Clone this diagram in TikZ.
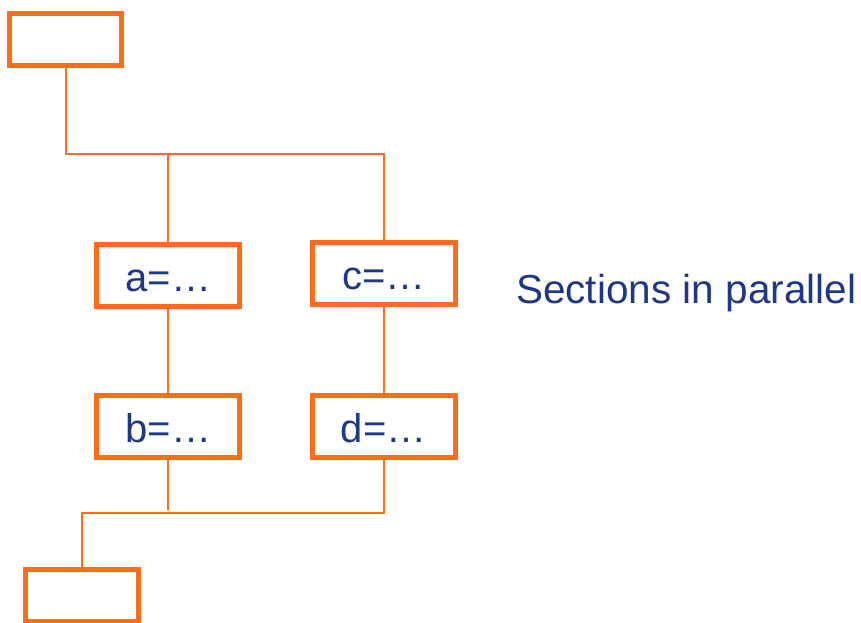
\documentclass[tikz,border=0pt]{standalone}
\usepackage{fontspec}
\setmainfont{Liberation Sans}
\usepackage{tikz}

\definecolor{secorange}{RGB}{255,108,30}
\definecolor{secblue}{RGB}{30,55,135}

\begin{document}
\begin{tikzpicture}[x=1pt, y=-1pt,
    secbox/.style={draw=secorange, line width=5pt, rectangle, outer sep=0pt,
      inner sep=0pt, text height=32pt, text depth=0pt, text=secblue,
      font=\fontsize{40}{44}\selectfont},
    wire/.style={draw=secorange, line width=2pt}]
  \useasboundingbox (0,0) rectangle (861,623);

  % Coordinates
  \coordinate (split) at (65.7, 154);
  \coordinate (merge) at (82, 513.3);
  \coordinate (bstub) at (168.3, 510);

  % Boxes
  \node[secbox, minimum width=111.7pt, minimum height=52.8pt] (top) at (65.7, 39.6) {};
  \node[secbox, minimum width=143.3pt, minimum height=61.2pt] (a) at (168.3, 275.4) {a=\dots};
  \node[secbox, minimum width=143pt, minimum height=61.7pt] (c) at (383.7, 273.3) {c=\dots};
  \node[secbox, minimum width=143.3pt, minimum height=61.2pt] (b) at (168.3, 426.4) {b=\dots};
  \node[secbox, minimum width=143pt, minimum height=61.2pt] (d) at (383.7, 426.4) {d=\dots};
  \node[secbox, minimum width=112.4pt, minimum height=51.8pt] (bottom) at (82, 595.1) {};

  \node[anchor=base west, text=secblue, inner sep=0pt,
    font=\fontsize{40.5}{46}\selectfont] (label) at (516, 303.5) {Sections in parallel};

  % Drawing
  \draw[wire] (top.south) -- (split) -| (c.north);
  \draw[wire] (a.north) -- (a.north |- split);
  \draw[wire] (a.south) -- (b.north);
  \draw[wire] (c.south) -- (d.north);
  \draw[wire] (b.south) -- (bstub);
  \draw[wire] (d.south) |- (merge) -- (bottom.north);
\end{tikzpicture}
\end{document}
